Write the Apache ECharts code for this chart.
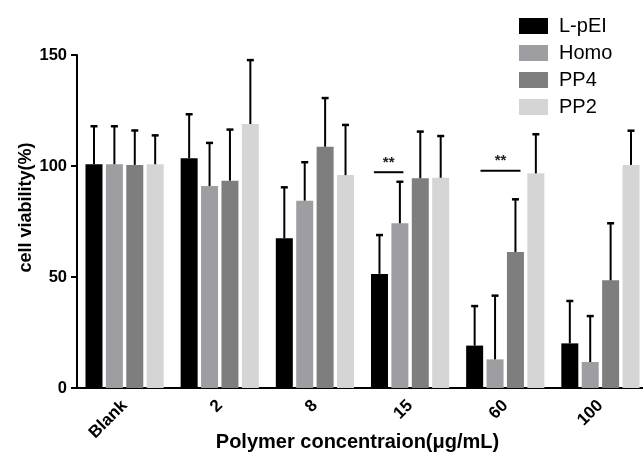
<!DOCTYPE html>
<html>
<head>
<meta charset="utf-8">
<script src="https://cdn.jsdelivr.net/npm/echarts@6/dist/echarts.min.js"></script>
<style>
  html, body { margin: 0; padding: 0; background: #fff; }
  #main { width: 643px; height: 461px; }
</style>
</head>
<body>
<div id="main"></div>
<script>
// 数据
var categories = ['Blank', '2', '8', '15', '60', '100'];
var seriesNames = ['L-pEI', 'Homo', 'PP4', 'PP2'];
var lpei = [100.8, 103.5, 67.4, 51.4, 19.1, 20.1];
var lpeiSd = [17.1, 19.8, 23.0, 17.5, 17.8, 19.1];
var homo = [100.8, 91.0, 84.4, 74.2, 12.9, 11.7];
var homoSd = [17.1, 19.4, 17.3, 18.7, 28.7, 20.7];
var pp4 = [100.5, 93.4, 108.7, 94.5, 61.3, 48.5];
var pp4Sd = [15.5, 23.0, 21.9, 21.0, 23.7, 25.7];
var pp2 = [100.8, 118.9, 95.9, 94.7, 96.7, 100.5];
var pp2Sd = [13.0, 28.8, 22.6, 18.8, 17.6, 15.4];
var yTicks = [0, 50, 100, 150];
// 显著性标记: [类别序号, y值, 起点(组宽比例), 终点(组宽比例)]
var sigMarks = [[3, 97.2, -0.38, -0.07], [4, 97.9, -0.26, 0.16]];

var colors = ['#000000', '#9e9da2', '#7e7e7e', '#d5d5d5'];
var barW = 17;
var gapPx = 3.4;
var fontFamily = '"Liberation Sans", Arial, sans-serif';

var Chart = echarts.init(document.getElementById('main'));

function errSeries(idx, means, sds) {
    var data = means.map(function (v, i) { return [i, v, v + sds[i]]; });
    return {
        type: 'custom',
        name: seriesNames[idx] + ' sd',
        z: 5,
        silent: true,
        data: data,
        renderItem: function (params, api) {
            var offset = (idx - 1.5) * (barW + gapPx);
            var p0 = api.coord([api.value(0), api.value(1)]);
            var p1 = api.coord([api.value(0), api.value(2)]);
            var x = p0[0] + offset;
            return {
                type: 'group',
                children: [
                    { type: 'line', shape: { x1: x, y1: p0[1], x2: x, y2: p1[1] }, style: { stroke: '#000', lineWidth: 2 } },
                    { type: 'line', shape: { x1: x - 3.5, y1: p1[1], x2: x + 3.5, y2: p1[1] }, style: { stroke: '#000', lineWidth: 2.5 } }
                ]
            };
        }
    };
}

function barSeries(idx, values) {
    return {
        type: 'bar',
        name: seriesNames[idx],
        data: values,
        barWidth: barW,
        barGap: (gapPx / barW * 100) + '%',
        itemStyle: { color: colors[idx] },
        z: 2
    };
}

var option = {
    animation: false,
    grid: { left: 77, top: 55, bottom: 73, right: -5, containLabel: false, outerBoundsMode: 'none' },
    legend: {
        orient: 'vertical',
        left: 514,
        top: 11,
        itemWidth: 29,
        itemHeight: 16,
        itemGap: 7,
        data: seriesNames,
        textStyle: { fontSize: 20, lineHeight: 20, color: '#000', fontFamily: fontFamily, padding: [0, 0, 0, 6] },
        icon: 'rect'
    },
    xAxis: {
        type: 'category',
        data: categories,
        name: 'Polymer concentraion(μg/mL)',
        nameLocation: 'middle',
        nameGap: 44,
        nameMoveOverlap: false,
        nameTextStyle: { fontSize: 20, fontWeight: 'bold', color: '#000', fontFamily: fontFamily, padding: [0, 10, 0, 0] },
        axisLine: { lineStyle: { color: '#000', width: 2 } },
        axisTick: { alignWithLabel: true, length: 5, lineStyle: { color: '#000', width: 2 } },
        axisLabel: { rotate: 45, fontSize: 17, fontWeight: 'bold', color: '#000', fontFamily: fontFamily, margin: 15 }
    },
    yAxis: {
        type: 'value',
        min: 0,
        max: 150,
        interval: 50,
        name: 'cell viability(%)',
        nameLocation: 'middle',
        nameGap: 42,
        nameMoveOverlap: false,
        nameRotate: 90,
        nameTextStyle: { fontSize: 18, fontWeight: 'bold', color: '#000', fontFamily: fontFamily, padding: [0, 0, 0, 28] },
        splitLine: { show: false },
        axisLine: { show: true, lineStyle: { color: '#000', width: 2 } },
        axisTick: { show: true, length: 6, lineStyle: { color: '#000', width: 2 } },
        axisLabel: {
            fontSize: 16.5, fontWeight: 'bold', color: '#000', fontFamily: fontFamily, margin: 10,
            formatter: function (v) { return yTicks.indexOf(v) >= 0 ? String(v) : ''; }
        }
    },
    series: [
        barSeries(0, lpei), barSeries(1, homo), barSeries(2, pp4), barSeries(3, pp2),
        errSeries(0, lpei, lpeiSd), errSeries(1, homo, homoSd), errSeries(2, pp4, pp4Sd), errSeries(3, pp2, pp2Sd),
        {
            type: 'custom',
            name: 'sig',
            z: 6,
            silent: true,
            data: sigMarks,
            renderItem: function (params, api) {
                var c = api.coord([api.value(0), api.value(1)]);
                var band = api.size([1, 0])[0];
                var x1 = c[0] + api.value(2) * band;
                var x2 = c[0] + api.value(3) * band;
                return {
                    type: 'group',
                    children: [
                        { type: 'line', shape: { x1: x1, y1: c[1], x2: x2, y2: c[1] }, style: { stroke: '#000', lineWidth: 2 } },
                        { type: 'text', x: (x1 + x2) / 2, y: c[1] - 2,
                          style: { text: '**', fill: '#222', font: 'bold 15px ' + fontFamily, align: 'center', verticalAlign: 'bottom' } }
                    ]
                };
            }
        }
    ]
};

Chart.setOption(option);
</script>
</body>
</html>
